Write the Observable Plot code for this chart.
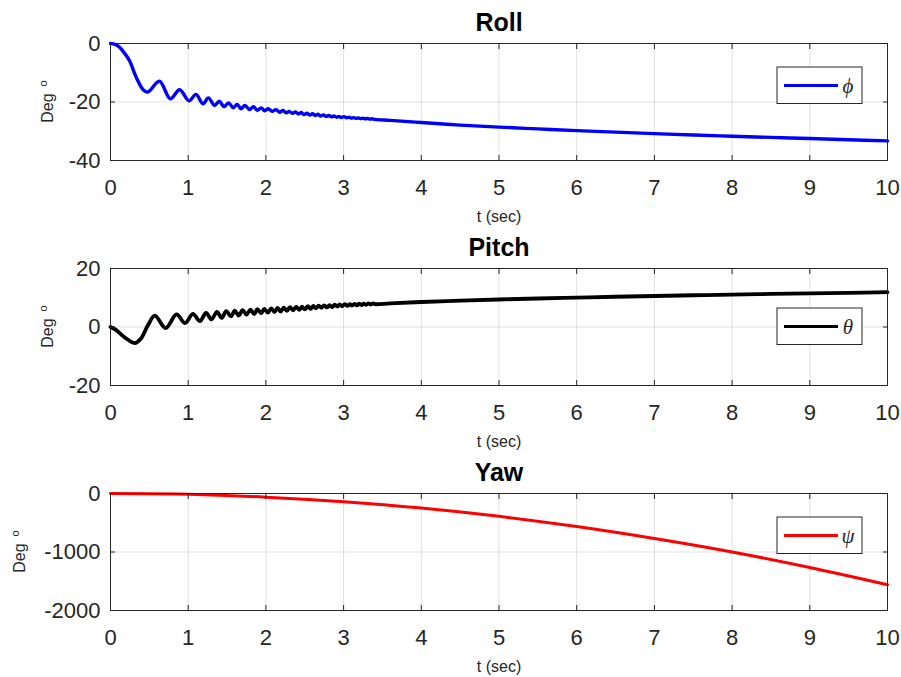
<!DOCTYPE html>
<html>
<head>
<meta charset="utf-8">
<script src="https://cdn.jsdelivr.net/npm/d3@7"></script>
<script src="https://cdn.jsdelivr.net/npm/@observablehq/plot@0.6"></script>
<style>
  body { margin: 0; background: #fff; }
  #chart { width: 901px; height: 677px; }
  #chart svg { display: block; }
</style>
</head>
<body>
<div id="chart"></div>
<script>
// Time axis (seconds)
const timeTicks = [0, 1, 2, 3, 4, 5, 6, 7, 8, 9, 10];

// Roll angle φ (deg): initial drop, decaying wobble, then slow drift
const rollTime = [0, 0.06, 0.12, 0.18, 0.245, 0.33, 0.42, 0.48,
  0.63, 0.77, 0.89, 1.01, 1.10, 1.19, 1.26, 1.34, 1.40, 1.46,
  1.52, 1.58, 1.63, 1.68, 1.73, 1.79, 1.84, 1.89, 1.94, 1.985,
  2.03, 2.08, 2.13, 2.175, 2.22, 2.26, 2.30, 2.34, 2.38, 2.42,
  2.455, 2.49, 2.53, 2.565, 2.60, 2.635, 2.67, 2.705, 2.74, 2.775,
  2.81, 2.845, 2.875, 2.91, 2.94, 2.97, 3.005, 3.04, 3.07, 3.10,
  3.13, 3.16, 3.19, 3.22, 3.25, 3.28, 3.31, 3.34, 3.37, 3.40,
  3.6, 4, 4.5, 5, 5.5, 6, 6.5, 7, 7.5, 8, 8.5, 9, 9.5, 10];
const rollDeg = [0, -0.3, -1.4, -3.3, -5.9, -11.5, -15.8, -16.6,
  -12.9, -18.9, -15.8, -19.6, -17.4, -20.6, -18.6, -21.2, -19.7, -21.6,
  -20.3, -22.0, -20.8, -22.3, -21.2, -22.6, -21.6, -22.8, -22.0, -23.0,
  -22.3, -23.2, -22.6, -23.5, -22.9, -23.7, -23.2, -23.9, -23.4, -24.1,
  -23.6, -24.3, -23.8, -24.5, -24.0, -24.6, -24.2, -24.8, -24.4, -24.9,
  -24.6, -25.1, -24.8, -25.2, -24.9, -25.3, -25.0, -25.4, -25.2, -25.5,
  -25.35, -25.6, -25.45, -25.7, -25.55, -25.75, -25.65, -25.85, -25.75, -25.95,
  -26.3, -27.0, -27.9, -28.6, -29.2, -29.8, -30.3, -30.8, -31.3, -31.7, -32.1, -32.5, -32.9, -33.3];

// Pitch angle θ (deg)
const pitchTime = [0, 0.07, 0.18, 0.31, 0.39, 0.48,
  0.57, 0.71, 0.85, 0.96, 1.06, 1.15, 1.23, 1.30, 1.37, 1.43,
  1.49, 1.55, 1.60, 1.65, 1.70, 1.75, 1.80, 1.85, 1.89, 1.94,
  1.98, 2.025, 2.07, 2.11, 2.15, 2.19, 2.23, 2.27, 2.31, 2.35,
  2.39, 2.43, 2.465, 2.50, 2.54, 2.575, 2.61, 2.645, 2.68, 2.715,
  2.75, 2.785, 2.82, 2.85, 2.885, 2.92, 2.95, 2.98, 3.015, 3.05,
  3.08, 3.11, 3.14, 3.17, 3.20, 3.23, 3.26, 3.29, 3.32, 3.35,
  3.38, 3.41,
  3.6, 4, 4.5, 5, 5.5, 6, 6.5, 7, 7.5, 8, 8.5, 9, 9.5, 10];
const pitchDeg = [0, -1.0, -3.5, -5.5, -4.0, 0.5,
  3.9, -0.4, 4.3, 1.3, 4.5, 2.0, 4.8, 2.6, 5.2, 3.1,
  5.4, 3.6, 5.6, 3.9, 5.8, 4.2, 5.9, 4.4, 6.1, 4.7,
  6.2, 4.9, 6.4, 5.1, 6.5, 5.3, 6.6, 5.5, 6.8, 5.7,
  6.9, 5.9, 7.0, 6.0, 7.1, 6.2, 7.2, 6.4, 7.3, 6.6,
  7.4, 6.7, 7.5, 6.8, 7.6, 7.0, 7.7, 7.1, 7.8, 7.2,
  7.85, 7.3, 7.9, 7.4, 7.95, 7.5, 8.0, 7.6, 8.05, 7.7,
  8.05, 7.8,
  8.1, 8.55, 9.0, 9.4, 9.75, 10.05, 10.35, 10.6, 10.85, 11.1, 11.3, 11.5, 11.7, 11.9];

// Yaw angle ψ (deg)
const yawTime = [0, 1, 2, 3, 4, 5, 6, 7, 8, 9, 10];
const yawDeg = [0, -12, -62, -140, -248, -390, -565, -770, -1000, -1265, -1560];

// Y tick values per panel
const rollTicks = [-40, -20, 0];
const pitchTicks = [-20, 0, 20];
const yawTicks = [-2000, -1000, 0];

const ink = "#262626";
const sans = "'Liberation Sans', Arial, Helvetica, sans-serif";

const panels = [
  {title: "Roll", time: rollTime, deg: rollDeg, color: "#0000ff", domain: [-40, 0], ticks: rollTicks,
   symbol: "\u03D5", height: 225, legendTop: 24, labelX: 47, lineWidth: 3.4},
  {title: "Pitch", time: pitchTime, deg: pitchDeg, color: "#000000", domain: [-20, 20], ticks: pitchTicks,
   symbol: "\u03B8", height: 225, legendTop: 40, labelX: 47, lineWidth: 3.8},
  {title: "Yaw", time: yawTime, deg: yawDeg, color: "#ff0000", domain: [-2000, 0], ticks: yawTicks,
   symbol: "\u03C8", height: 227, legendTop: 24, labelX: 19, lineWidth: 3}
];

const container = document.getElementById("chart");
const marginTop = 43, frameBottom = 160, marginLeft = 110, marginRight = 14, width = 901;

for (const p of panels) {
  const rows = p.time.map((t, i) => ({t, v: p.deg[i]}));
  const fmt = d => String(d);
  const chart = Plot.plot({
    width, height: p.height,
    marginLeft, marginRight, marginTop, marginBottom: p.height - frameBottom,
    style: {fontFamily: sans, fontSize: "22px", color: ink, background: "#fff", overflow: "visible"},
    x: {domain: [0, 10]},
    y: {domain: p.domain},
    marks: [
      Plot.gridX(timeTicks, {stroke: "#000", strokeOpacity: 0.12}),
      Plot.gridY(p.ticks, {stroke: "#000", strokeOpacity: 0.12}),
      Plot.line(rows, {x: "t", y: "v", stroke: p.color, strokeWidth: p.lineWidth, curve: "catmull-rom"}),
      Plot.frame({stroke: ink, strokeWidth: 1}),
      // inward tick marks on all four sides
      Plot.axisX(timeTicks, {anchor: "bottom", tickSize: 5, dy: -5, fill: "none", stroke: ink, label: null}),
      Plot.axisX(timeTicks, {anchor: "top", tickSize: 5, dy: 5, fill: "none", stroke: ink, label: null}),
      Plot.axisY(p.ticks, {anchor: "left", tickSize: 5, dx: 5, fill: "none", stroke: ink, label: null}),
      Plot.axisY(p.ticks, {anchor: "right", tickSize: 5, dx: -5, fill: "none", stroke: ink, label: null}),
      // tick labels
      Plot.axisX(timeTicks, {anchor: "bottom", tickSize: 0, tickPadding: 19, tickFormat: fmt, fill: ink, label: null}),
      Plot.axisY(p.ticks, {anchor: "left", tickSize: 0, tickPadding: 10, tickFormat: fmt, fill: ink, label: null}),
      Plot.text(["t (sec)"], {frameAnchor: "bottom", lineAnchor: "middle", dy: 56, text: d => d, fontSize: 16, fill: ink}),
      Plot.text([p.title], {frameAnchor: "top", lineAnchor: "middle", dy: -21, text: d => d, fontSize: 25, fontWeight: "bold", fill: "#000"})
    ]
  });

  const svg = d3.select(chart);
  const frameMid = marginTop + (frameBottom - marginTop) / 2;

  // y-axis label "Deg" with superscript o
  const ylab = svg.append("text")
    .attr("transform", `translate(${p.labelX},${frameMid}) rotate(-90)`)
    .attr("text-anchor", "middle")
    .attr("dy", "0.35em")
    .attr("font-family", sans)
    .attr("font-size", 16)
    .attr("fill", ink);
  ylab.append("tspan").text("Deg");
  ylab.append("tspan").attr("dx", 7).attr("dy", -6).attr("font-size", 11).text("o");

  // legend box
  const lg = svg.append("g").attr("transform", `translate(777,${marginTop + p.legendTop})`);
  lg.append("rect").attr("width", 85).attr("height", 36.5)
    .attr("fill", "#fff").attr("stroke", ink).attr("stroke-width", 1);
  lg.append("line").attr("x1", 7).attr("x2", 61).attr("y1", 18.5).attr("y2", 18.5)
    .attr("stroke", p.color).attr("stroke-width", 3);
  lg.append("text").attr("x", 71).attr("y", 18.5).attr("dy", "0.35em")
    .attr("font-family", "'Liberation Serif', 'DejaVu Serif', serif")
    .attr("font-style", "italic").attr("font-size", 21).attr("fill", ink)
    .text(p.symbol);

  container.appendChild(chart);
}
</script>
</body>
</html>
